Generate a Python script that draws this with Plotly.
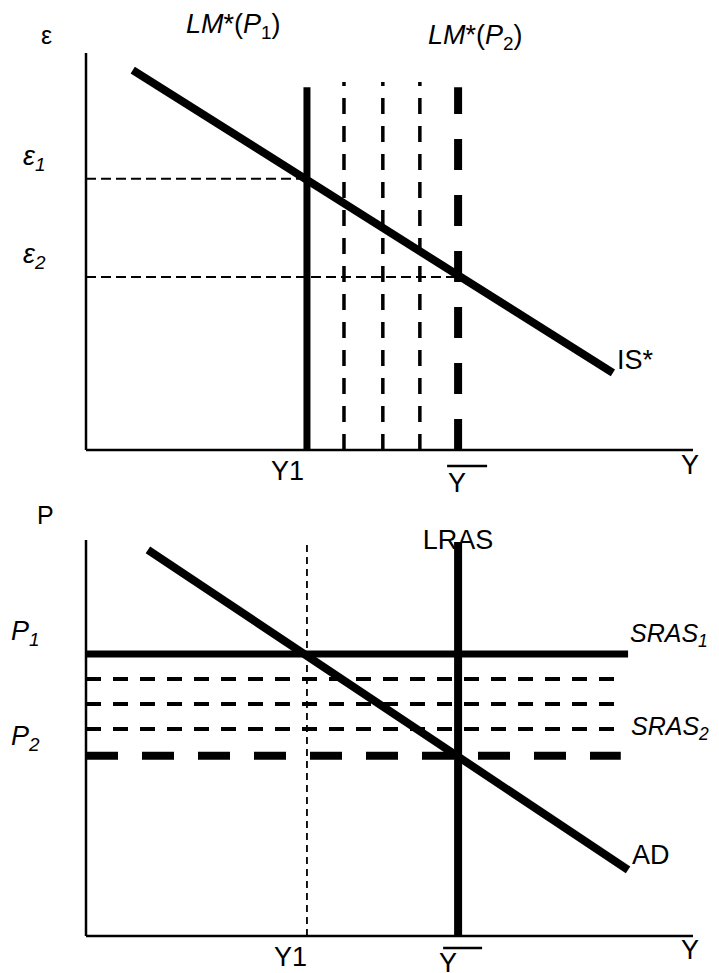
import plotly.graph_objects as go

# ---------------- data (model units: axes run 0..100) ----------------
# Top panel: Mundell-Fleming  (x = income Y, y = exchange rate ε)
Y1 = 36.4
Y_BAR = 61.3
lm_positions = [36.4, 42.5, 48.9, 55.0, 61.3]      # LM*(P1) ... LM*(P2)
lm_tops = [91.4, 92.7, 92.7, 92.7, 91.4]
is_Y = [7.7, 86.8]
is_eps = [95.7, 19.4]
eps_levels = [68.3, 43.6]                            # ε1, ε2

# Bottom panel: AD-AS  (x = income Y, y = price level P)
p_levels = [71.2, 64.9, 58.6, 52.3, 45.5]            # SRAS1 ... SRAS2
sras_ends = [89.3, 88.8, 88.8, 88.8, 88.1]
ad_Y = [10.2, 89.3]
ad_P = [97.5, 16.7]
lras_top = 99.5
y1_guide_top = 99.7

axis_len = [0, 100]

FONT = "Liberation Sans, Arial, sans-serif"
BLACK = "black"

fig = go.Figure()


def line(x, y, width, dash="solid", xa="x", ya="y"):
    fig.add_trace(go.Scatter(x=x, y=y, mode="lines", xaxis=xa, yaxis=ya,
                             line=dict(color=BLACK, width=width, dash=dash),
                             hoverinfo="skip", showlegend=False))


# ---------- top panel ----------
line([0, 0], axis_len, 2.5)
line(axis_len, [0, 0], 2.5)
# ε1 / ε2 guides
line([0, lm_positions[0]], [eps_levels[0]] * 2, 2, "10px,5px")
line([0, lm_positions[-1]], [eps_levels[1]] * 2, 2, "10px,5px")
# LM* curves
for i, (xv, top) in enumerate(zip(lm_positions, lm_tops)):
    if i == 0:
        line([xv, xv], [0, top], 7)
    elif i == len(lm_positions) - 1:
        line([xv, xv], [0, top], 8, "31px,25px")
    else:
        line([xv, xv], [0, top], 3.5, "16px,12px")
# IS*
line(is_Y, is_eps, 8)

# ---------- bottom panel ----------
B = dict(xa="x2", ya="y2")
line([0, 0], axis_len, 2.5, **B)
line(axis_len, [0, 0], 2.5, **B)
line([Y1, Y1], [0, y1_guide_top], 1.8, "7px,5px", **B)
# LRAS label drawn beneath the LRAS line
fig.add_trace(go.Scatter(x=[Y_BAR], y=[lras_top], mode="text", text=["LRAS"],
                         xaxis="x2", yaxis="y2", textposition="middle center",
                         textfont=dict(family=FONT, size=27, color=BLACK),
                         hoverinfo="skip", showlegend=False, cliponaxis=False))
for i, (pv, xe) in enumerate(zip(p_levels, sras_ends)):
    if i == 0:
        line([0, xe], [pv, pv], 7, **B)
    elif i == len(p_levels) - 1:
        line([0, xe], [pv, pv], 8, "32px,24px", **B)
    else:
        line([0, xe], [pv, pv], 4, "15px,12px", **B)
line([Y_BAR, Y_BAR], [0, lras_top], 8, **B)
line(ad_Y, ad_P, 8, **B)

# ---------- layout (page body adds an 8px margin) ----------
fig.update_layout(
    width=711, height=965, margin=dict(l=0, r=0, t=0, b=0),
    paper_bgcolor="white", plot_bgcolor="rgba(0,0,0,0)",
    showlegend=False,
    xaxis=dict(domain=[0, 1], range=[-12.85, 104.28], visible=False, anchor="y"),
    yaxis=dict(domain=[0, 1], range=[-131.74, 111.34], visible=False, anchor="x"),
    xaxis2=dict(domain=[0, 1], range=[-12.85, 104.28], visible=False, anchor="y2"),
    yaxis2=dict(domain=[0, 1], range=[-9.34, 234.34], visible=False, anchor="x2"),
)


def ann(text, x, y, xs=0, ys=0, size=27, xanchor="center", xref="x", yref="y", italic=False):
    if italic:
        text = "<i>" + text + "</i>"
    fig.add_annotation(text=text, x=x, y=y, xref=xref, yref=yref, xshift=xs, yshift=ys,
                       xanchor=xanchor, yanchor="middle", showarrow=False,
                       font=dict(family=FONT, size=size, color=BLACK))


# top labels
ann("ε", 0, 100, xs=-40, ys=18, size=25)
ann("ε<sub>1</sub>", 0, eps_levels[0], xs=-52, ys=21, size=27, italic=True)
ann("ε<sub>2</sub>", 0, eps_levels[1], xs=-52, ys=21, size=27, italic=True)
ann("<i>LM</i>*(<i>P</i><sub>1</sub>)", Y1, 100, xs=-73, ys=27, size=27)
ann("<i>LM</i>*(<i>P</i><sub>2</sub>)", Y_BAR, 100, xs=17, ys=16, size=27)
ann("IS*", is_Y[1], is_eps[1], xs=2, ys=13, size=27, xanchor="left")
ann("Y1", Y1, 0, xs=-19, ys=-21, size=27)
ann("Y", Y_BAR, 0, xs=-1, ys=-33, size=27)
ann("Y", 100, 0, xs=-3, ys=-15, size=27)
fig.add_shape(type="line", xref="x", yref="y", xsizemode="pixel", ysizemode="pixel",
              xanchor=Y_BAR, yanchor=0, x0=-11, x1=29, y0=-16, y1=-16,
              line=dict(color=BLACK, width=2.5))

# bottom labels
ann("P", 0, 100, xs=-41, ys=25, size=25, xref="x2", yref="y2")
ann("P<sub>1</sub>", 0, p_levels[0], xs=-61, ys=21, size=27, xref="x2", yref="y2", italic=True)
ann("P<sub>2</sub>", 0, p_levels[-1], xs=-61, ys=18, size=27, xref="x2", yref="y2", italic=True)
ann("SRAS<sub>1</sub>", sras_ends[0], p_levels[0], xs=0, ys=19, size=25, xanchor="left",
    xref="x2", yref="y2", italic=True)
ann("SRAS<sub>2</sub>", sras_ends[0], p_levels[-1], xs=1, ys=28, size=25, xanchor="left",
    xref="x2", yref="y2", italic=True)
ann("AD", ad_Y[1], ad_P[1], xs=2, ys=15, size=27, xanchor="left", xref="x2", yref="y2")
ann("Y1", Y1, 0, xs=-16, ys=-21, size=27, xref="x2", yref="y2")
ann("Y", Y_BAR, 0, xs=-10, ys=-27, size=27, xref="x2", yref="y2")
ann("Y", 100, 0, xs=-3, ys=-14, size=27, xref="x2", yref="y2")
fig.add_shape(type="line", xref="x2", yref="y2", xsizemode="pixel", ysizemode="pixel",
              xanchor=Y_BAR, yanchor=0, x0=-15, x1=24, y0=-12, y1=-12,
              line=dict(color=BLACK, width=2.5))

fig.write_html("out.html")
